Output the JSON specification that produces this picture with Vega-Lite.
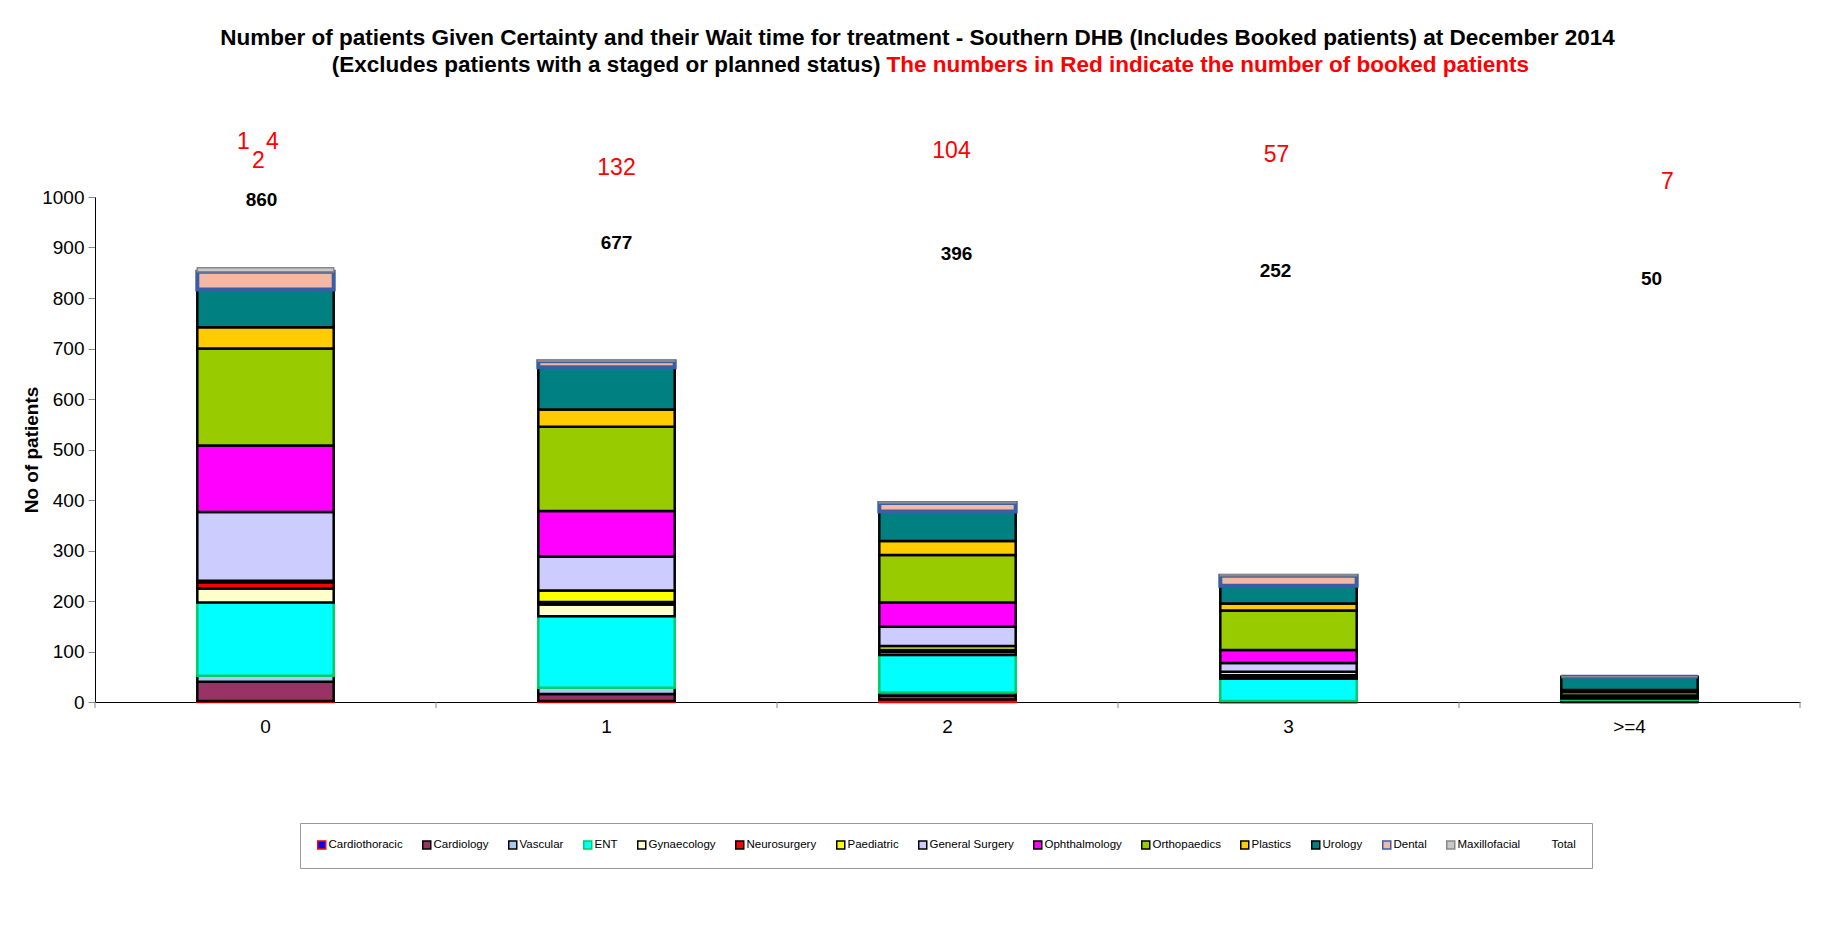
{
  "$schema": "https://vega.github.io/schema/vega-lite/v6.json",
  "autosize": {"type": "none"},
  "width": 1705,
  "height": 505,
  "padding": {"left": 95, "top": 197, "right": 44, "bottom": 247},
  "background": "white",
  "config": {"view": {"stroke": null}, "font": "Liberation Sans"},
  "title": {
    "text": "Number of patients Given Certainty and their Wait time for treatment  - Southern DHB (Includes Booked patients) at December 2014",
    "font": "Liberation Sans",
    "fontSize": 22.5,
    "fontWeight": "bold",
    "color": "#000000",
    "anchor": "middle",
    "frame": "group",
    "dx": -30,
    "offset": 5
  },
  "datasets": {
    "seg": [
      {"wait": "0", "specialty": "Cardiothoracic", "patients": 2},
      {"wait": "0", "specialty": "Cardiology", "patients": 38},
      {"wait": "0", "specialty": "Vascular", "patients": 12},
      {"wait": "0", "specialty": "ENT", "patients": 145},
      {"wait": "0", "specialty": "Gynaecology", "patients": 28},
      {"wait": "0", "specialty": "Neurosurgery", "patients": 12},
      {"wait": "0", "specialty": "Paediatric", "patients": 3},
      {"wait": "0", "specialty": "General Surgery", "patients": 136},
      {"wait": "0", "specialty": "Ophthalmology", "patients": 132},
      {"wait": "0", "specialty": "Orthopaedics", "patients": 192},
      {"wait": "0", "specialty": "Plastics", "patients": 42},
      {"wait": "0", "specialty": "Urology", "patients": 75},
      {"wait": "0", "specialty": "Dental", "patients": 35},
      {"wait": "0", "specialty": "Maxillofacial", "patients": 8},
      {"wait": "1", "specialty": "Cardiothoracic", "patients": 2},
      {"wait": "1", "specialty": "Cardiology", "patients": 14},
      {"wait": "1", "specialty": "Vascular", "patients": 12},
      {"wait": "1", "specialty": "ENT", "patients": 142},
      {"wait": "1", "specialty": "Gynaecology", "patients": 23},
      {"wait": "1", "specialty": "Neurosurgery", "patients": 5},
      {"wait": "1", "specialty": "Paediatric", "patients": 23},
      {"wait": "1", "specialty": "General Surgery", "patients": 67},
      {"wait": "1", "specialty": "Ophthalmology", "patients": 90},
      {"wait": "1", "specialty": "Orthopaedics", "patients": 167},
      {"wait": "1", "specialty": "Plastics", "patients": 34},
      {"wait": "1", "specialty": "Urology", "patients": 84},
      {"wait": "1", "specialty": "Dental", "patients": 12},
      {"wait": "1", "specialty": "Maxillofacial", "patients": 2},
      {"wait": "2", "specialty": "Cardiothoracic", "patients": 5},
      {"wait": "2", "specialty": "Cardiology", "patients": 8},
      {"wait": "2", "specialty": "Vascular", "patients": 6},
      {"wait": "2", "specialty": "ENT", "patients": 74},
      {"wait": "2", "specialty": "Gynaecology", "patients": 6},
      {"wait": "2", "specialty": "Neurosurgery", "patients": 4},
      {"wait": "2", "specialty": "Paediatric", "patients": 8},
      {"wait": "2", "specialty": "General Surgery", "patients": 38},
      {"wait": "2", "specialty": "Ophthalmology", "patients": 48},
      {"wait": "2", "specialty": "Orthopaedics", "patients": 94},
      {"wait": "2", "specialty": "Plastics", "patients": 28},
      {"wait": "2", "specialty": "Urology", "patients": 58},
      {"wait": "2", "specialty": "Dental", "patients": 17},
      {"wait": "2", "specialty": "Maxillofacial", "patients": 2},
      {"wait": "3", "specialty": "Cardiothoracic", "patients": 0},
      {"wait": "3", "specialty": "Cardiology", "patients": 1},
      {"wait": "3", "specialty": "Vascular", "patients": 1},
      {"wait": "3", "specialty": "ENT", "patients": 44},
      {"wait": "3", "specialty": "Gynaecology", "patients": 4},
      {"wait": "3", "specialty": "Neurosurgery", "patients": 3},
      {"wait": "3", "specialty": "Paediatric", "patients": 7},
      {"wait": "3", "specialty": "General Surgery", "patients": 17},
      {"wait": "3", "specialty": "Ophthalmology", "patients": 26},
      {"wait": "3", "specialty": "Orthopaedics", "patients": 78},
      {"wait": "3", "specialty": "Plastics", "patients": 14},
      {"wait": "3", "specialty": "Urology", "patients": 35},
      {"wait": "3", "specialty": "Dental", "patients": 20},
      {"wait": "3", "specialty": "Maxillofacial", "patients": 2},
      {"wait": ">=4", "specialty": "Cardiothoracic", "patients": 0},
      {"wait": ">=4", "specialty": "Cardiology", "patients": 3},
      {"wait": ">=4", "specialty": "Vascular", "patients": 1},
      {"wait": ">=4", "specialty": "ENT", "patients": 3},
      {"wait": ">=4", "specialty": "Gynaecology", "patients": 2},
      {"wait": ">=4", "specialty": "Neurosurgery", "patients": 0},
      {"wait": ">=4", "specialty": "Paediatric", "patients": 1},
      {"wait": ">=4", "specialty": "General Surgery", "patients": 2},
      {"wait": ">=4", "specialty": "Ophthalmology", "patients": 1},
      {"wait": ">=4", "specialty": "Orthopaedics", "patients": 7},
      {"wait": ">=4", "specialty": "Plastics", "patients": 4},
      {"wait": ">=4", "specialty": "Urology", "patients": 26},
      {"wait": ">=4", "specialty": "Dental", "patients": 0},
      {"wait": ">=4", "specialty": "Maxillofacial", "patients": 0}
    ],
    "lab": [
      {"wait": "0", "total": 860, "booked": 124},
      {"wait": "1", "total": 677, "booked": 132},
      {"wait": "2", "total": 396, "booked": 104},
      {"wait": "3", "total": 252, "booked": 57},
      {"wait": ">=4", "total": 50, "booked": 7}
    ]
  },
  "layer": [
    {
      "data": {"name": "seg"},
      "transform": [{"window": [{"op": "row_number", "as": "series"}], "groupby": ["wait"]}],
      "mark": {"type": "bar", "strokeWidth": 2.5},
      "encoding": {
        "x": {
          "field": "wait", "type": "nominal", "sort": ["0", "1", "2", "3", ">=4"],
          "scale": {"paddingInner": 0.6, "paddingOuter": 0.3},
          "axis": {"title": null, "labelAngle": 0, "labelFontSize": 19, "labelColor": "#000000", "labelFont": "Liberation Sans", "domainColor": "#000000", "ticks": false, "labelPadding": 15}
        },
        "y": {
          "field": "patients", "type": "quantitative", "stack": "zero",
          "scale": {"domain": [0, 1000]},
          "axis": {"title": "No of patients", "titleFontSize": 19, "titleFontWeight": "bold", "titleColor": "#000000", "titleFont": "Liberation Sans", "values": [0, 100, 200, 300, 400, 500, 600, 700, 800, 900, 1000], "format": "d", "grid": false, "labelFontSize": 19, "labelColor": "#000000", "labelFont": "Liberation Sans", "domainColor": "#000000", "tickColor": "#888888", "tickSize": 7, "labelPadding": 4, "titlePadding": 0}
        },
        "order": {"field": "series", "type": "quantitative", "sort": "ascending"},
        "color": {
          "field": "specialty", "type": "nominal",
          "scale": {
            "domain": ["Cardiothoracic", "Cardiology", "Vascular", "ENT", "Gynaecology", "Neurosurgery", "Paediatric", "General Surgery", "Ophthalmology", "Orthopaedics", "Plastics", "Urology", "Dental", "Maxillofacial", "Total"],
            "range": ["#0000FF", "#993366", "#A6CAF0", "#00FFFF", "#FFFFCC", "#FF0000", "#FFFF00", "#CCCCFF", "#FF00FF", "#99CC00", "#FFCC00", "#008080", "#F4B8A4", "#C8C8C8", "rgba(0,0,0,0)"]
          },
          "legend": {"orient": "none", "legendX": 205, "legendY": 626, "direction": "horizontal", "columns": 15, "title": null, "symbolType": "square", "symbolSize": 64, "symbolStrokeWidth": 1.5, "symbolOpacity": 1, "labelFontSize": 11.5, "labelFont": "Liberation Sans", "labelColor": "#000000", "columnPadding": 16, "labelOffset": 1, "strokeColor": "#999999", "padding": 16}
        },
        "stroke": {
          "field": "specialty", "type": "nominal",
          "scale": {
            "domain": ["Cardiothoracic", "Cardiology", "Vascular", "ENT", "Gynaecology", "Neurosurgery", "Paediatric", "General Surgery", "Ophthalmology", "Orthopaedics", "Plastics", "Urology", "Dental", "Maxillofacial", "Total"],
            "range": ["#FF0000", "#000000", "#000000", "#00CC66", "#000000", "#000000", "#000000", "#000000", "#000000", "#000000", "#000000", "#000000", "#3A5FA8", "#888888", "rgba(0,0,0,0)"]
          },
          "legend": {"orient": "none", "legendX": 205, "legendY": 626, "direction": "horizontal", "columns": 15, "title": null, "symbolType": "square", "symbolSize": 64, "symbolStrokeWidth": 1.5, "symbolOpacity": 1, "labelFontSize": 11.5, "labelFont": "Liberation Sans", "labelColor": "#000000", "columnPadding": 16, "labelOffset": 1, "strokeColor": "#999999", "padding": 16}
        },
        "strokeWidth": {"condition": [{"test": "datum.specialty === 'Dental'", "value": 4}, {"test": "datum.specialty === 'Maxillofacial'", "value": 1.5}], "value": 2.5}
      }
    },
    {
      "data": {"name": "lab"},
      "mark": {"type": "rule", "color": "#888888", "strokeWidth": 1},
      "encoding": {"x": {"field": "wait", "type": "nominal", "sort": ["0", "1", "2", "3", ">=4"], "bandPosition": -0.75}, "y": {"datum": 0, "type": "quantitative", "scale": {"domain": [0, 1000]}}, "y2": {"datum": -12}}
    },
    {
      "data": {"name": "lab"}, "transform": [{"filter": "datum.wait === '>=4'"}],
      "mark": {"type": "rule", "color": "#888888", "strokeWidth": 1},
      "encoding": {"x": {"field": "wait", "type": "nominal", "sort": ["0", "1", "2", "3", ">=4"], "bandPosition": 1.75}, "y": {"datum": 0, "type": "quantitative", "scale": {"domain": [0, 1000]}}, "y2": {"datum": -12}}
    },
    {
      "data": {"name": "lab"}, "transform": [{"filter": "datum.wait === '2'"}],
      "mark": {"type": "text", "fontWeight": "bold", "fontSize": 22.5, "align": "right", "dx": -67, "color": "#000000"},
      "encoding": {"x": {"field": "wait", "type": "nominal", "sort": ["0", "1", "2", "3", ">=4"]}, "y": {"datum": 1261, "type": "quantitative", "scale": {"domain": [0, 1000]}}, "text": {"value": "(Excludes patients with a staged or planned status)"}}
    },
    {
      "data": {"name": "lab"}, "transform": [{"filter": "datum.wait === '2'"}],
      "mark": {"type": "text", "fontWeight": "bold", "fontSize": 22.5, "align": "left", "dx": -61, "color": "#FF0000"},
      "encoding": {"x": {"field": "wait", "type": "nominal", "sort": ["0", "1", "2", "3", ">=4"]}, "y": {"datum": 1261, "type": "quantitative", "scale": {"domain": [0, 1000]}}, "text": {"value": "The numbers in Red indicate the number of booked patients"}}
    },
    {
      "data": {"name": "lab"}, "transform": [{"filter": "datum.wait === '0'"}],
      "mark": {"type": "text", "fontWeight": "bold", "fontSize": 19, "dx": -4, "color": "#000000"},
      "encoding": {"x": {"field": "wait", "type": "nominal", "sort": ["0", "1", "2", "3", ">=4"]}, "y": {"datum": 994, "type": "quantitative", "scale": {"domain": [0, 1000]}}, "text": {"field": "total"}}
    },
    {
      "data": {"name": "lab"}, "transform": [{"filter": "datum.wait === '1'"}],
      "mark": {"type": "text", "fontWeight": "bold", "fontSize": 19, "dx": 10, "color": "#000000"},
      "encoding": {"x": {"field": "wait", "type": "nominal", "sort": ["0", "1", "2", "3", ">=4"]}, "y": {"datum": 908, "type": "quantitative", "scale": {"domain": [0, 1000]}}, "text": {"field": "total"}}
    },
    {
      "data": {"name": "lab"}, "transform": [{"filter": "datum.wait === '2'"}],
      "mark": {"type": "text", "fontWeight": "bold", "fontSize": 19, "dx": 9, "color": "#000000"},
      "encoding": {"x": {"field": "wait", "type": "nominal", "sort": ["0", "1", "2", "3", ">=4"]}, "y": {"datum": 887, "type": "quantitative", "scale": {"domain": [0, 1000]}}, "text": {"field": "total"}}
    },
    {
      "data": {"name": "lab"}, "transform": [{"filter": "datum.wait === '3'"}],
      "mark": {"type": "text", "fontWeight": "bold", "fontSize": 19, "dx": -13, "color": "#000000"},
      "encoding": {"x": {"field": "wait", "type": "nominal", "sort": ["0", "1", "2", "3", ">=4"]}, "y": {"datum": 854, "type": "quantitative", "scale": {"domain": [0, 1000]}}, "text": {"field": "total"}}
    },
    {
      "data": {"name": "lab"}, "transform": [{"filter": "datum.wait === '>=4'"}],
      "mark": {"type": "text", "fontWeight": "bold", "fontSize": 19, "dx": 22, "color": "#000000"},
      "encoding": {"x": {"field": "wait", "type": "nominal", "sort": ["0", "1", "2", "3", ">=4"]}, "y": {"datum": 838, "type": "quantitative", "scale": {"domain": [0, 1000]}}, "text": {"field": "total"}}
    },
    {
      "data": {"name": "lab"}, "transform": [{"filter": "datum.wait === '0'"}],
      "mark": {"type": "text", "fontSize": 23, "dx": -22, "color": "#FF0000"},
      "encoding": {"x": {"field": "wait", "type": "nominal", "sort": ["0", "1", "2", "3", ">=4"]}, "y": {"datum": 1109, "type": "quantitative", "scale": {"domain": [0, 1000]}}, "text": {"value": "1"}}
    },
    {
      "data": {"name": "lab"}, "transform": [{"filter": "datum.wait === '0'"}],
      "mark": {"type": "text", "fontSize": 23, "dx": -7, "color": "#FF0000"},
      "encoding": {"x": {"field": "wait", "type": "nominal", "sort": ["0", "1", "2", "3", ">=4"]}, "y": {"datum": 1071, "type": "quantitative", "scale": {"domain": [0, 1000]}}, "text": {"value": "2"}}
    },
    {
      "data": {"name": "lab"}, "transform": [{"filter": "datum.wait === '0'"}],
      "mark": {"type": "text", "fontSize": 23, "dx": 7, "color": "#FF0000"},
      "encoding": {"x": {"field": "wait", "type": "nominal", "sort": ["0", "1", "2", "3", ">=4"]}, "y": {"datum": 1109, "type": "quantitative", "scale": {"domain": [0, 1000]}}, "text": {"value": "4"}}
    },
    {
      "data": {"name": "lab"}, "transform": [{"filter": "datum.wait === '1'"}],
      "mark": {"type": "text", "fontSize": 23, "dx": 10, "color": "#FF0000"},
      "encoding": {"x": {"field": "wait", "type": "nominal", "sort": ["0", "1", "2", "3", ">=4"]}, "y": {"datum": 1057, "type": "quantitative", "scale": {"domain": [0, 1000]}}, "text": {"field": "booked"}}
    },
    {
      "data": {"name": "lab"}, "transform": [{"filter": "datum.wait === '2'"}],
      "mark": {"type": "text", "fontSize": 23, "dx": 4, "color": "#FF0000"},
      "encoding": {"x": {"field": "wait", "type": "nominal", "sort": ["0", "1", "2", "3", ">=4"]}, "y": {"datum": 1092, "type": "quantitative", "scale": {"domain": [0, 1000]}}, "text": {"field": "booked"}}
    },
    {
      "data": {"name": "lab"}, "transform": [{"filter": "datum.wait === '3'"}],
      "mark": {"type": "text", "fontSize": 23, "dx": -12, "color": "#FF0000"},
      "encoding": {"x": {"field": "wait", "type": "nominal", "sort": ["0", "1", "2", "3", ">=4"]}, "y": {"datum": 1083, "type": "quantitative", "scale": {"domain": [0, 1000]}}, "text": {"field": "booked"}}
    },
    {
      "data": {"name": "lab"}, "transform": [{"filter": "datum.wait === '>=4'"}],
      "mark": {"type": "text", "fontSize": 23, "dx": 38, "color": "#FF0000"},
      "encoding": {"x": {"field": "wait", "type": "nominal", "sort": ["0", "1", "2", "3", ">=4"]}, "y": {"datum": 1029, "type": "quantitative", "scale": {"domain": [0, 1000]}}, "text": {"field": "booked"}}
    }
  ]
}
